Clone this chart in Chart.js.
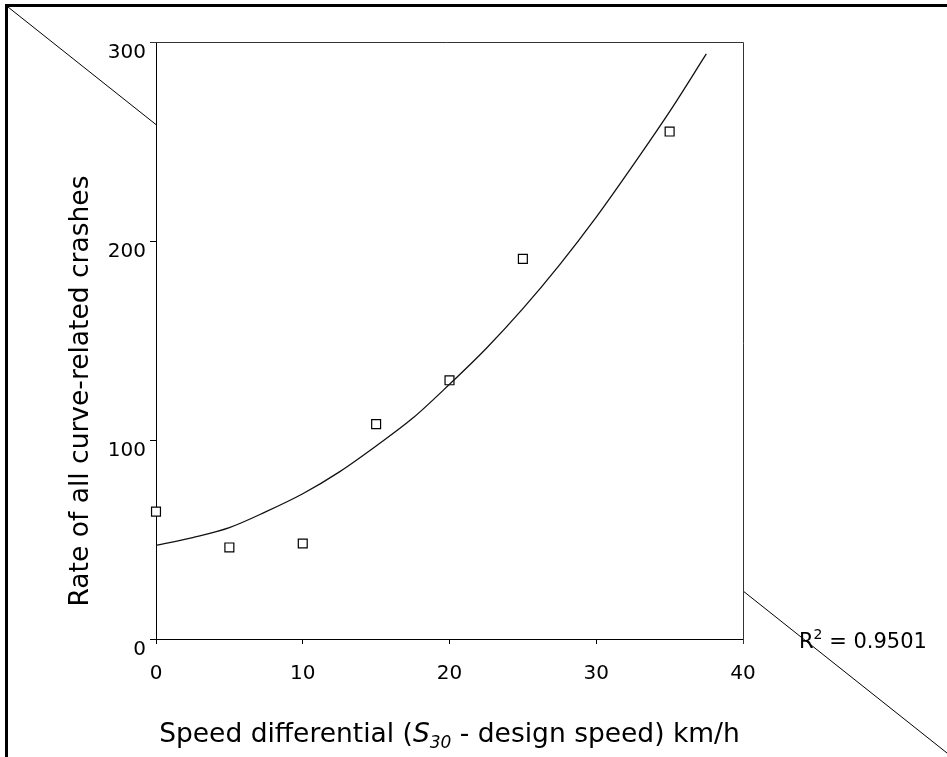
<!DOCTYPE html>
<html>
<head>
<meta charset="utf-8">
<script src="https://cdn.jsdelivr.net/npm/chart.js@4.4.1/dist/chart.umd.min.js"></script>
<style>
  html, body { margin: 0; padding: 0; background: #fff; }
  #wrap { position: relative; width: 947px; height: 757px; }
</style>
</head>
<body>
<div id="wrap"><canvas id="chartCrash" width="947" height="757"></canvas></div>
<script>
// observed crash rates per speed differential
const speedDiff = [0, 5, 10, 15, 20, 25, 35];
const crashRate = [64, 46, 48, 108, 130, 191, 255];

// trend curve
const trendX = [0, 2.5, 5, 7.5, 10, 12.5, 15, 17.5, 20, 22.5, 25, 27.5, 30, 32.5, 35, 37.5];
const trendY = [47, 51, 56, 64, 73, 84, 97, 111, 128, 146, 166, 188, 212, 238, 265, 294];

const xTicks = [0, 10, 20, 30, 40];
const yTicks = [0, 100, 200, 300];

const yTitle = 'Rate of all curve-related crashes';
const rSquared = '0.9501';
const FONT = '"DejaVu Sans", Verdana, sans-serif';

/**
 * Frame, the diagonal stroke behind the plot, titles and the R² note
 */
const decor = {
    id: 'decor',
    beforeDraw(chart) {
        const { ctx, chartArea: a } = chart;
        ctx.save();
        ctx.fillStyle = '#fff';
        ctx.fillRect(0, 0, chart.width, chart.height);

        ctx.strokeStyle = '#000';
        ctx.lineWidth = 1;
        ctx.beginPath();
        ctx.moveTo(8, 7);
        ctx.lineTo(chart.width, chart.height - 4);
        ctx.stroke();

        // plot area hides the diagonal
        ctx.fillStyle = '#fff';
        ctx.fillRect(a.left, a.top, a.right - a.left, a.bottom - a.top);

        // heavy frame on top and left
        ctx.fillStyle = '#000';
        ctx.fillRect(5, 4, chart.width - 5, 3);
        ctx.fillRect(5, 4, 3, chart.height - 4);
        ctx.restore();
    },
    afterDraw(chart) {
        const { ctx, chartArea: a } = chart;
        ctx.save();
        ctx.strokeStyle = '#333';
        ctx.lineWidth = 1;
        ctx.beginPath();
        ctx.moveTo(a.left - 6, a.top + 0.5);
        ctx.lineTo(a.right + 0.5, a.top + 0.5);
        ctx.lineTo(a.right + 0.5, a.bottom + 5);
        ctx.stroke();

        ctx.fillStyle = '#000';
        ctx.textBaseline = 'middle';

        // y title
        ctx.save();
        ctx.translate(81, 391);
        ctx.rotate(-Math.PI / 2);
        ctx.textAlign = 'center';
        ctx.font = '26.5px ' + FONT;
        ctx.fillText(yTitle, 0, 0);
        ctx.restore();

        // x title with italic S30
        const parts = [
            { t: 'Speed differential (', f: '26.5px ' + FONT, dy: 0 },
            { t: 'S', f: 'italic 26.5px ' + FONT, dy: 0 },
            { t: '30', f: 'italic 17px ' + FONT, dy: 6 },
            { t: ' - design speed) km/h', f: '26.5px ' + FONT, dy: 0 }
        ];
        let total = 0;
        parts.forEach(p => { ctx.font = p.f; p.w = ctx.measureText(p.t).width; total += p.w; });
        let x = 449.5 - total / 2;
        ctx.textAlign = 'left';
        ctx.textBaseline = 'alphabetic';
        parts.forEach(p => { ctx.font = p.f; ctx.fillText(p.t, x, 742 + p.dy); x += p.w; });

        // R² note
        let rx = 799;
        ctx.font = '21px ' + FONT;
        ctx.fillText('R', rx, 648);
        rx += ctx.measureText('R').width;
        ctx.font = '14px ' + FONT;
        ctx.fillText('2', rx, 639);
        rx += ctx.measureText('2').width;
        ctx.font = '21px ' + FONT;
        ctx.fillText(' = ' + rSquared, rx, 648);
        ctx.restore();
    }
};

function renderChart() {
    const ctx = document.getElementById('chartCrash').getContext('2d');
    new Chart(ctx, {
        type: 'scatter',
        data: {
            datasets: [{
                type: 'line',
                data: trendX.map((v, i) => ({ x: v, y: trendY[i] })),
                borderColor: '#111',
                borderWidth: 1.3,
                pointRadius: 0,
                cubicInterpolationMode: 'monotone',
                fill: false,
                clip: false
            }, {
                data: speedDiff.map((v, i) => ({ x: v, y: crashRate[i] })),
                pointStyle: 'rect',
                pointRadius: 6.3,
                pointBackgroundColor: '#fff',
                pointBorderColor: '#000',
                pointBorderWidth: 1.2,
                clip: false
            }]
        },
        options: {
            responsive: false,
            animation: false,
            layout: { padding: { left: 0, top: 42, right: 204, bottom: 0 } },
            plugins: { legend: { display: false }, tooltip: { enabled: false } },
            scales: {
                x: {
                    type: 'linear',
                    min: 0, max: 40,
                    afterBuildTicks: s => { s.ticks = xTicks.map(v => ({ value: v })); },
                    afterFit: s => { s.height = 118; },
                    grid: { drawOnChartArea: false, drawTicks: true, tickLength: 5, color: '#000' },
                    border: { color: '#000', width: 1 },
                    ticks: { color: '#000', padding: 18, font: { family: FONT, size: 20 } }
                },
                y: {
                    type: 'linear',
                    min: 0, max: 300,
                    afterBuildTicks: s => { s.ticks = yTicks.map(v => ({ value: v })); },
                    afterFit: s => { s.width = 156; },
                    grid: { drawOnChartArea: false, drawTicks: true, tickLength: 6, color: '#000' },
                    border: { color: '#000', width: 1 },
                    ticks: { color: '#000', padding: 4, labelOffset: 11, font: { family: FONT, size: 20 } }
                }
            }
        },
        plugins: [decor]
    });
}

document.addEventListener('DOMContentLoaded', renderChart);
</script>
</body>
</html>
